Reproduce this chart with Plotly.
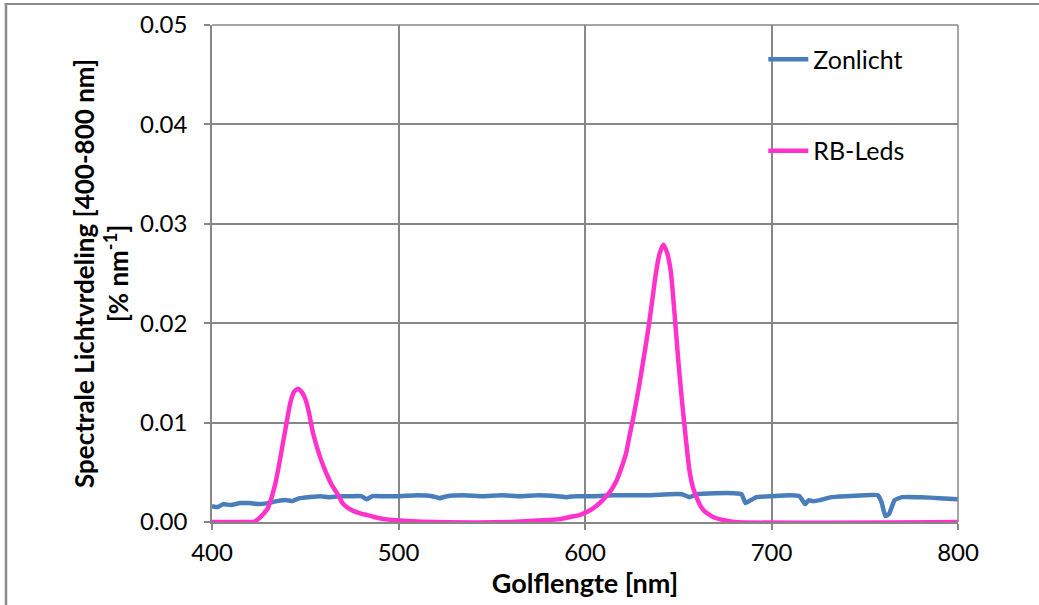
import plotly.graph_objects as go

# Zonlicht (sunlight) spectrum
zon_wl = [400, 403, 406, 410, 415, 420, 425, 430, 435, 440, 443, 447, 452, 458, 463, 470, 475, 480, 483, 486,
          492, 500, 510, 518, 522, 526, 535, 545, 555, 565, 575, 585, 590, 595, 605, 615, 625, 635, 645, 652,
          656, 660, 670, 680, 684, 686, 688, 692, 700, 710, 715, 718, 720, 722, 726, 732, 740, 750, 757, 759,
          761, 763, 766, 770, 780, 790, 800]
zon_val = [0.0016, 0.0015, 0.0018, 0.0017, 0.0019, 0.0019, 0.0018, 0.0019, 0.0021, 0.0022, 0.0021, 0.0024,
           0.0025, 0.0026, 0.0025, 0.0026, 0.0026, 0.0026, 0.0023, 0.0026, 0.0026, 0.0026, 0.0027, 0.0026,
           0.0024, 0.0026, 0.0027, 0.0026, 0.0027, 0.0026, 0.0027, 0.0026, 0.0025, 0.0026, 0.0026, 0.0027,
           0.0027, 0.0027, 0.0028, 0.0028, 0.0025, 0.0028, 0.0029, 0.0029, 0.0028, 0.0019, 0.0021, 0.0025,
           0.0026, 0.0027, 0.0026, 0.0018, 0.0022, 0.0021, 0.0022, 0.0025, 0.0026, 0.0027, 0.0027, 0.0020,
           0.0006, 0.0008, 0.0022, 0.0025, 0.0025, 0.0024, 0.0023]

# RB-Leds spectrum
led_wl = [400, 420, 422, 424, 426, 428, 430, 432, 434, 436, 438, 440, 442, 444, 446, 448, 450, 452, 454, 456,
          458, 460, 462, 464, 466, 468, 470, 473, 476, 479, 483, 487, 492, 497, 505, 520, 560, 570, 580, 587,
          592, 597, 602, 606, 610, 614, 617, 620, 622, 624, 626, 628, 630, 632, 634, 636, 638, 640, 642, 644,
          646, 648, 650, 652, 654, 656, 658, 660, 662, 664, 667, 670, 674, 680, 800]
led_val = [0.0, 0.0, 0.0, 0.0002, 0.0005, 0.0009, 0.0014, 0.0025, 0.0039, 0.0058, 0.0079, 0.0100, 0.0120,
           0.0131, 0.0134, 0.0131, 0.0124, 0.0110, 0.0091, 0.0077, 0.0065, 0.0055, 0.0046, 0.0038, 0.0032,
           0.0026, 0.0019, 0.0014, 0.0011, 0.0009, 0.0007, 0.0005, 0.0003, 0.0002, 0.0001, 0.0, 0.0, 0.0001,
           0.0002, 0.0003, 0.0005, 0.0007, 0.0011, 0.0016, 0.0023, 0.0032, 0.0042, 0.0057, 0.0069, 0.0088,
           0.0106, 0.0126, 0.0148, 0.0171, 0.0195, 0.0222, 0.0250, 0.0270, 0.0279, 0.0271, 0.0252, 0.0210,
           0.0163, 0.0122, 0.0085, 0.0052, 0.0034, 0.0024, 0.0016, 0.0011, 0.0007, 0.0004, 0.0002, 0.0, 0.0]

x_ticks = [400, 500, 600, 700, 800]
y_ticks = [0.0, 0.01, 0.02, 0.03, 0.04, 0.05]
y_ticklabels = ["0.00", "0.01", "0.02", "0.03", "0.04", "0.05"]

FONT = "Lato, Carlito, 'Open Sans', sans-serif"
GRID = "#878787"

fig = go.Figure()
fig.add_trace(go.Scatter(x=zon_wl, y=zon_val, mode="lines", name="Zonlicht", legendgroup="a",
                         line=dict(color="#4a7ebb", width=4.5, shape="spline", smoothing=0.3)))
fig.add_trace(go.Scatter(x=led_wl, y=led_val, mode="lines", name="RB-Leds", legendgroup="b",
                         line=dict(color="#ff33cc", width=4.5, shape="spline", smoothing=0.6)))

fig.update_layout(
    width=1039, height=605,
    margin=dict(l=212, r=81, t=25, b=83, autoexpand=False),
    paper_bgcolor="white", plot_bgcolor="white",
    font=dict(family=FONT, size=24, color="black"),
    showlegend=True,
    legend=dict(x=0.739, y=0.977, xanchor="left", yanchor="top", bgcolor="rgba(0,0,0,0)",
                tracegroupgap=56, font=dict(size=25), itemwidth=40),
    xaxis=dict(range=[400, 800], tickvals=x_ticks, ticks="outside", ticklen=6, tickcolor=GRID,
               tickwidth=1.5, showgrid=True, gridcolor=GRID, gridwidth=1.5, showline=True,
               linecolor=GRID, linewidth=1.5, zeroline=False, ticklabelstandoff=2, automargin=False,
               tickfont=dict(size=24),
               title=dict(text="<b>Golflengte [nm]</b>", font=dict(size=27), standoff=2)),
    yaxis=dict(range=[0, 0.05], tickvals=y_ticks, ticktext=y_ticklabels, ticks="outside", ticklen=6,
               tickcolor=GRID, tickwidth=1.5, showgrid=True, gridcolor=GRID, gridwidth=1.5,
               showline=True, linecolor=GRID, linewidth=1.5, zeroline=False, ticklabelstandoff=12,
               automargin=False, tickfont=dict(size=24),
               title=dict(text="<b>Spectrale Lichtvrdeling [400-800 nm]<br>[% nm<sup>-1</sup>]</b>",
                          font=dict(size=26), standoff=4)),
    shapes=[
        dict(type="line", xref="paper", yref="paper", x0=-0.002 - 206 / 746, x1=1 + 90 / 746,
             y0=1 + 21 / 497, y1=1 + 21 / 497, line=dict(color="#8c8c8c", width=2)),
        dict(type="line", xref="paper", yref="paper", x0=-206 / 746, x1=-206 / 746,
             y0=1 + 21 / 497, y1=-90 / 497, line=dict(color="#8c8c8c", width=2.5)),
        dict(type="line", xref="paper", yref="paper", x0=1, x1=1, y0=0, y1=1,
             line=dict(color=GRID, width=1.5)),
        dict(type="line", xref="paper", yref="paper", x0=0, x1=1, y0=1, y1=1,
             line=dict(color=GRID, width=1.5)),
    ],
)

fig.write_html("out.html")
